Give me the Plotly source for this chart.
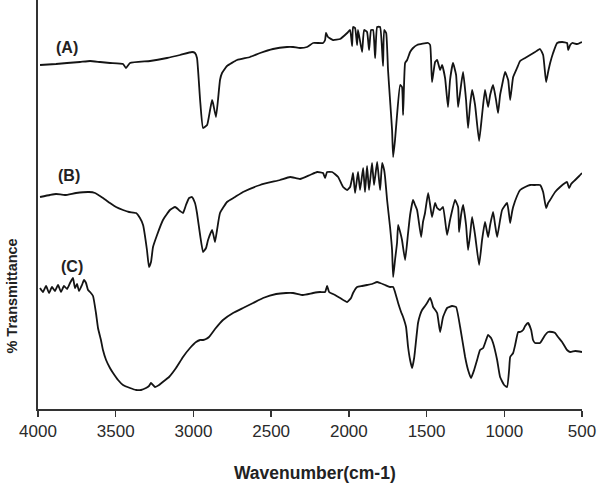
import plotly.graph_objects as go

# ---- Data (wavenumber in cm-1, transmittance in arbitrary offset units) ----
wn_A = [3987, 3884, 3813, 3730, 3665, 3601, 3537, 3453, 3434, 3408, 3279, 3170, 3086, 3009, 2990, 2977,
        2957, 2938, 2912, 2893, 2880, 2874, 2855, 2842, 2829, 2816, 2784, 2719, 2636, 2571, 2488, 2398,
        2359, 2314, 2269, 2230, 2166, 2153, 2147, 2134, 2102, 2056, 2011, 1992, 1979, 1973, 1960, 1947,
        1941, 1915, 1902, 1883, 1870, 1857, 1844, 1831, 1818, 1799, 1780, 1773, 1760, 1748, 1735, 1722,
        1715, 1703, 1690, 1670, 1658, 1651, 1645, 1638, 1625, 1606, 1587, 1561, 1490, 1477, 1465, 1445,
        1432, 1413, 1400, 1381, 1362, 1349, 1330, 1310, 1297, 1278, 1265, 1246, 1233, 1220, 1207, 1188,
        1162, 1143, 1124, 1104, 1091, 1072, 1053, 1040, 1027, 1014, 995, 975, 962, 950, 943, 918, 898,
        866, 834, 802, 770, 750, 731, 718, 705, 686, 660, 628, 596, 589, 576, 563, 531, 500]
t_A = [344, 345, 346, 347, 348, 347, 346, 345, 341, 346, 348, 351, 354, 357, 356, 351,
       309, 281, 284, 299, 309, 306, 292, 309, 329, 336, 343, 349, 352, 356, 360, 362,
       362, 361, 362, 366, 366, 369, 376, 372, 369, 370, 376, 379, 363, 382, 381, 364,
       379, 357, 379, 377, 359, 379, 379, 351, 382, 382, 343, 379, 376, 339, 309, 279,
       252, 269, 294, 324, 322, 294, 324, 346, 349, 357, 361, 364, 366, 364, 327, 347,
       349, 339, 344, 331, 302, 329, 346, 334, 302, 324, 337, 309, 281, 304, 319, 304,
       268, 294, 319, 302, 314, 324, 309, 296, 314, 324, 337, 329, 309, 324, 332, 341, 348,
       351, 354, 357, 360, 354, 327, 337, 346, 356, 366, 367, 366, 359, 364, 366, 365, 367]

wn_B = [3987, 3923, 3884, 3826, 3755, 3672, 3633, 3582, 3537, 3498, 3453, 3414, 3369, 3344, 3324, 3299,
        3286, 3273, 3260, 3234, 3196, 3151, 3118, 3086, 3067, 3048, 3028, 3009, 2990, 2977, 2957, 2938,
        2919, 2906, 2880, 2867, 2861, 2848, 2829, 2784, 2732, 2681, 2571, 2443, 2378, 2314, 2250, 2204,
        2166, 2153, 2140, 2108, 2069, 2037, 2011, 1992, 1979, 1973, 1960, 1941, 1928, 1908, 1896, 1883,
        1870, 1851, 1838, 1818, 1799, 1786, 1773, 1767, 1754, 1735, 1722, 1715, 1703, 1690, 1683, 1670,
        1658, 1638, 1619, 1606, 1587, 1574, 1561, 1535, 1523, 1510, 1490, 1477, 1465, 1445, 1432, 1413,
        1394, 1368, 1349, 1317, 1297, 1291, 1278, 1265, 1246, 1233, 1220, 1207, 1188, 1162, 1143, 1124,
        1104, 1091, 1072, 1059, 1046, 1027, 1014, 982, 969, 962, 950, 943, 918, 898, 866, 834, 802, 770,
        750, 731, 718, 705, 673, 641, 609, 596, 583, 570, 544, 518, 500]
t_B = [212, 214, 215, 214, 216, 217, 216, 211, 206, 202, 199, 197, 196, 191, 184, 159,
       142, 147, 162, 174, 189, 199, 202, 198, 196, 204, 211, 212, 206, 196, 174, 157,
       161, 169, 179, 171, 167, 179, 196, 207, 212, 217, 224, 229, 232, 230, 234, 237,
       236, 231, 237, 237, 232, 222, 219, 222, 231, 236, 216, 237, 219, 241, 217, 243,
       219, 246, 224, 247, 219, 246, 239, 232, 209, 182, 159, 132, 149, 166, 184, 177,
       169, 149, 176, 194, 209, 204, 199, 172, 187, 196, 216, 204, 192, 206, 201, 199,
       202, 174, 189, 209, 202, 177, 194, 204, 184, 159, 174, 192, 174, 144, 169, 187,
       172, 184, 197, 184, 172, 189, 199, 206, 194, 186, 197, 202, 213, 219, 222, 224, 224, 224,
       217, 201, 206, 209, 217, 222, 226, 227, 221, 225, 229, 233, 236]

wn_C = [3987, 3968, 3948, 3929, 3910, 3891, 3871, 3852, 3833, 3813, 3794, 3775, 3762, 3749, 3736, 3717,
        3704, 3691, 3678, 3665, 3646, 3627, 3614, 3595, 3582, 3562, 3537, 3517, 3485, 3453, 3408, 3369,
        3337, 3305, 3286, 3273, 3260, 3247, 3221, 3189, 3157, 3112, 3067, 3022, 2983, 2957, 2938, 2919,
        2900, 2861, 2810, 2745, 2681, 2616, 2552, 2468, 2404, 2359, 2295, 2230, 2185, 2153, 2140, 2127,
        2089, 2056, 2011, 1986, 1973, 1947, 1915, 1883, 1851, 1818, 1799, 1767, 1735, 1715, 1703, 1683,
        1664, 1651, 1632, 1619, 1606, 1593, 1580, 1574, 1555, 1542, 1529, 1510, 1497, 1477, 1465, 1458,
        1432, 1413, 1394, 1368, 1336, 1310, 1284, 1252, 1233, 1214, 1194, 1175, 1156, 1136, 1117, 1104,
        1085, 1072, 1046, 1027, 1001, 982, 969, 962, 943, 930, 911, 898, 879, 866, 847, 827, 815, 802,
        770, 737, 718, 692, 673, 654, 628, 596, 576, 544, 500]
t_C = [121, 117, 123, 116, 122, 118, 124, 117, 123, 120, 126, 131, 121, 125, 118, 124,
       129, 126, 119, 117, 113, 96, 81, 69, 59, 49, 41, 36, 29, 24, 21, 19,
       19, 21, 23, 26, 24, 22, 24, 28, 32, 41, 52, 61, 67, 69, 69, 70,
       72, 80, 89, 96, 101, 106, 111, 115, 116, 116, 114, 116, 117, 117, 123, 117,
       114, 111, 107, 111, 116, 122, 123, 124, 125, 127, 126, 124, 122, 122, 117, 106,
       97, 92, 82, 62, 49, 41, 51, 59, 86, 94, 99, 103, 106, 111, 106, 102,
       96, 77, 92, 101, 103, 102, 82, 52, 39, 31, 39, 49, 59, 61, 69, 74,
       71, 66, 49, 32, 24, 22, 39, 52, 56, 64, 77, 77, 79, 83, 86, 79, 69, 66,
       66, 74, 77, 77, 76, 72, 67, 59, 57, 58, 57]

series_labels = ["(A)", "(B)", "(C)"]
tick_vals = [4000, 3500, 3000, 2500, 2000, 1500, 1000, 500]
tick_text = ["4000", "3500", "3000", "2500", "2000", "1500", "1000", "500"]
label_pos_wn = [3813, 3800, 3781]
label_pos_t = [362, 234, 143]

FONT = "Liberation Sans, Arial, sans-serif"

fig = go.Figure()
for wn, t in [(wn_A, t_A), (wn_B, t_B), (wn_C, t_C)]:
    fig.add_trace(go.Scatter(x=wn, y=t, mode="lines",
                             line=dict(color="#141414", width=1.8, shape="spline", smoothing=0.4),
                             showlegend=False, hoverinfo="skip"))

for lab, xw, yt in zip(series_labels, label_pos_wn, label_pos_t):
    fig.add_annotation(x=xw, y=yt, text="<b>" + lab + "</b>", showarrow=False,
                       font=dict(family=FONT, size=16, color="#222"),
                       xanchor="center", yanchor="middle")

fig.add_annotation(xref="paper", yref="paper", x=-0.047, y=0.276,
                   text="<b>% Transmittance</b>", textangle=-90, showarrow=False,
                   font=dict(family=FONT, size=14.5, color="#222"),
                   xanchor="center", yanchor="middle")
fig.add_annotation(xref="paper", yref="paper", x=0.509, y=-0.156,
                   text="<b>Wavenumber(cm-1)</b>", showarrow=False,
                   font=dict(family=FONT, size=17.5, color="#222"),
                   xanchor="center", yanchor="middle")

fig.update_layout(
    width=600, height=487,
    margin=dict(l=38, r=18, t=0, b=78),
    paper_bgcolor="white", plot_bgcolor="white",
    hovermode=False,
    xaxis=dict(range=[4000, 500], tickvals=tick_vals, ticktext=tick_text,
               showgrid=False, zeroline=False, showline=True, linecolor="#333", linewidth=2,
               ticks="outside", ticklen=6, tickwidth=1.5, tickcolor="#333",
               tickfont=dict(family=FONT, size=17, color="#2a2a2a")),
    yaxis=dict(range=[0, 409], showgrid=False, zeroline=False, showline=True,
               linecolor="#333", linewidth=2, showticklabels=False, ticks=""),
)

fig.write_html("out.html", config={"displayModeBar": False, "staticPlot": True},
               post_script="document.body.style.margin='0';document.body.style.overflow='hidden';")
